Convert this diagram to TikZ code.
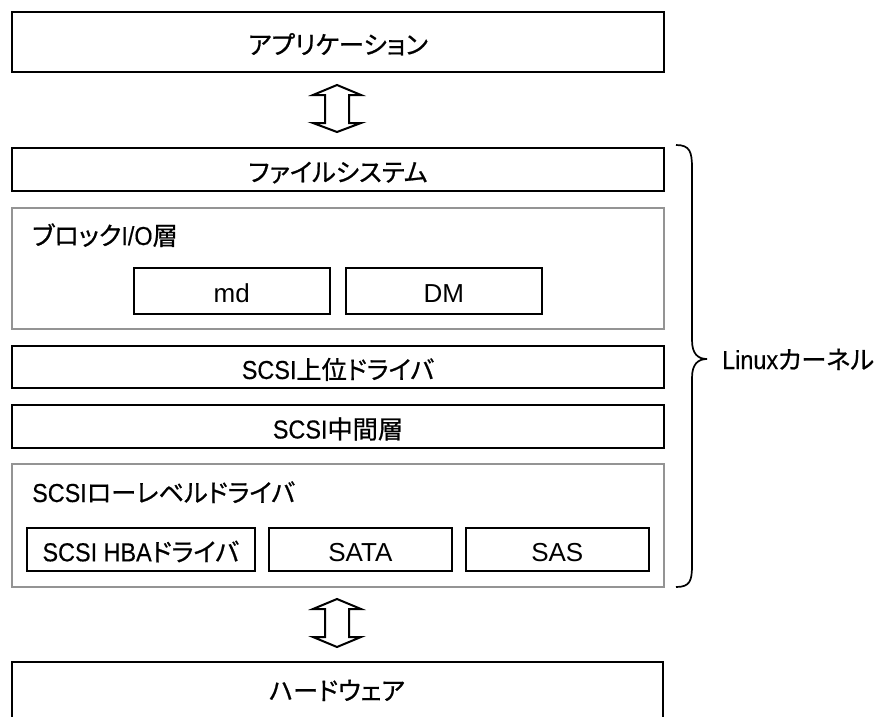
\documentclass[tikz,border=0pt]{standalone}
\usepackage{fontspec}
\setmainfont{Liberation Sans}
\newfontfamily\jp[Scale=0.97,FakeBold=0.7,RawFeature={+palt}]{Noto Sans CJK JP}
\newfontfamily\narrowlat[FakeStretch=0.9,FakeBold=0.3]{Liberation Sans}
\newcommand\ja[1]{{\jp #1}}
\newcommand\la[1]{{\narrowlat #1}}
\begin{document}
\begin{tikzpicture}[x=1pt,y=-1pt,
  txt/.style={font=\fontsize{26}{30}\selectfont, inner sep=0pt},
  boxtxt/.style={txt, text height=24pt, text depth=0pt},
  layer/.style={boxtxt, draw=black, line width=2pt, anchor=north west},
  group/.style={draw=black!42, line width=2pt, anchor=north west, inner sep=0pt},
  part/.style={boxtxt, draw=black, line width=1.6pt, anchor=north west},
  dbl/.style={draw=black, line width=2pt, line join=miter, fill=white},
  brace/.style={draw=black, line width=1.7pt}]
\clip (0,0) rectangle (889,717);
\fill[white] (0,0) rectangle (889,717);

% stacked layers
\node[layer, minimum width=652pt, minimum height=60pt] (app) at (11,11) {\ja{アプリケーション}};
\node[layer, minimum width=652pt, minimum height=43pt] (fs) at (11,147) {\ja{ファイルシステム}};

\node[group, minimum width=652pt, minimum height=121pt] (blk) at (11,207) {};
\node[txt, anchor=base west] (blklbl) at (32,245) {\ja{ブロック}\la{I/O}\ja{層}};
\node[part, minimum width=196pt, minimum height=46pt] (md) at (133,267) {md};
\node[part, minimum width=196pt, minimum height=46pt] (dm) at (345,267) {DM};

\node[layer, minimum width=652pt, minimum height=42pt] (upper) at (11,345) {\la{SCSI}\ja{上位ドライバ}};
\node[layer, minimum width=652pt, minimum height=43pt] (mid) at (11,404) {\la{SCSI}\ja{中間層}};

\node[group, minimum width=652pt, minimum height=123pt] (low) at (11,463) {};
\node[txt, anchor=base west] (lowlbl) at (32,502) {\la{SCSI}\ja{ローレベルドライバ}};
\node[part, minimum width=228pt, minimum height=43pt] (hba) at (26,527) {\la{SCSI HBA}\ja{ドライバ}};
\node[part, minimum width=183pt, minimum height=43pt] (sata) at (268,527) {SATA};
\node[part, minimum width=183pt, minimum height=43pt] (sas) at (465,527) {SAS};

\node[layer, minimum width=651pt, minimum height=70pt] (hw) at (11,661) {};
\node[txt, anchor=base] (hwlbl) at (337,700) {\ja{ハードウェア}};

% hollow double arrows between layers
\draw[dbl] (313,95) -- (337,85) -- (361,95) -- (349,95) -- (349,123) -- (361,123)
  -- (337,132) -- (313,123) -- (325,123) -- (325,95) -- cycle;
\draw[dbl] (313,609) -- (337,599) -- (361,609) -- (349,609) -- (349,637) -- (361,637)
  -- (337,647) -- (313,637) -- (325,637) -- (325,609) -- cycle;

% kernel brace
\draw[brace] (676,145) .. controls (690,145) and (692,152) .. (692,168) -- (692,340)
  .. controls (692,354) and (698,359) .. (707,359)
  .. controls (698,359) and (692,364) .. (692,378) -- (692,565)
  .. controls (692,581) and (690,587) .. (676,587);
\node[txt, anchor=base west] (kernel) at (722,369) {\la{Linux}\ja{カーネル}};
\end{tikzpicture}
\end{document}
